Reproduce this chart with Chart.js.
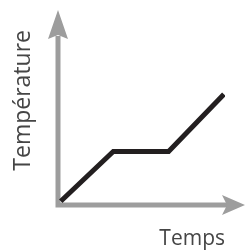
<!DOCTYPE html>
<html>
<head>
<meta charset="utf-8">
<script src="https://cdn.jsdelivr.net/npm/chart.js@4/dist/chart.umd.min.js"></script>
<style>
  html, body { margin: 0; padding: 0; background: #fff; }
  #wrap { width: 246px; height: 251px; }
</style>
</head>
<body>
<div id="wrap"><canvas id="chart"></canvas></div>
<script>
const timeValues = [0.05, 1, 2, 3];
const temperatureValues = [0.07, 1, 1, 2.07];
const xAxisLabel = "Temps";
const yAxisLabel = "Température";

const axisGray = "#9d9d9d";
const textGray = "#454545";

// axes with arrowheads, drawn under the line
const arrowAxes = {
  id: "arrowAxes",
  beforeDatasetsDraw(chart) {
    const { ctx, chartArea } = chart;
    const x0 = chartArea.left;
    const y0 = chartArea.bottom;
    ctx.save();
    ctx.strokeStyle = axisGray;
    ctx.fillStyle = axisGray;
    ctx.lineWidth = 5;
    ctx.lineCap = "butt";

    ctx.beginPath();
    ctx.moveTo(x0, y0 + 2.5);
    ctx.lineTo(x0, chartArea.top + 6);
    ctx.moveTo(x0 - 2.5, y0);
    ctx.lineTo(chartArea.right + 2, y0);
    ctx.stroke();

    // vertical arrow
    ctx.beginPath();
    ctx.moveTo(x0, 10);
    ctx.lineTo(x0 + 10, 39);
    ctx.lineTo(x0, 35);
    ctx.lineTo(x0 - 10, 39);
    ctx.closePath();
    ctx.fill();

    // horizontal arrow
    ctx.beginPath();
    ctx.moveTo(245, y0);
    ctx.lineTo(222, y0 - 10);
    ctx.lineTo(227, y0);
    ctx.lineTo(222, y0 + 10);
    ctx.closePath();
    ctx.fill();
    ctx.restore();
  }
};

new Chart(document.getElementById("chart"), {
  type: "line",
  data: {
    datasets: [
      {
        data: timeValues.map((t, i) => ({ x: t, y: temperatureValues[i] })),
        borderColor: "#231f20",
        borderWidth: 5,
        borderJoinStyle: "miter",
        borderCapStyle: "butt",
        pointRadius: 0,
        tension: 0,
        fill: false
      }
    ]
  },
  options: {
    responsive: true,
    maintainAspectRatio: false,
    animation: false,
    events: [],
    layout: { padding: { left: 0, top: 30, right: 21, bottom: 0 } },
    plugins: { legend: { display: false }, tooltip: { enabled: false } },
    scales: {
      x: {
        type: "linear",
        min: 0,
        max: 3.02,
        grid: { display: false },
        border: { display: false },
        ticks: { display: false },
        title: {
          display: true,
          text: xAxisLabel,
          align: "end",
          color: textGray,
          font: { family: "'Open Sans'", size: 21, lineHeight: 1 },
          padding: { top: 15.5, bottom: 1.5 }
        }
      },
      y: {
        type: "linear",
        min: 0,
        max: 3.27,
        grid: { display: false },
        border: { display: false },
        ticks: { display: false },
        title: {
          display: true,
          text: yAxisLabel,
          align: "end",
          color: textGray,
          font: { family: "'Open Sans'", size: 23, lineHeight: 1 },
          padding: { top: 12, bottom: 15 }
        }
      }
    }
  },
  plugins: [arrowAxes]
});
</script>
</body>
</html>
